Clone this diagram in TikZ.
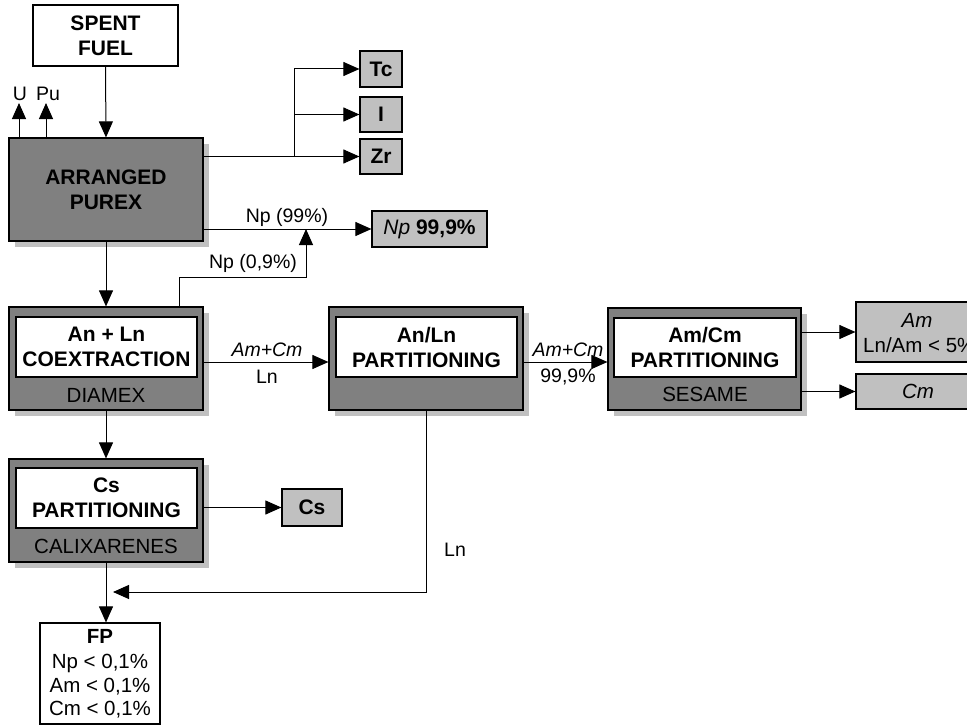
\documentclass[tikz,border=0pt]{standalone}
\usepackage{fontspec}
\setmainfont{Liberation Sans}
\usetikzlibrary{arrows.meta,shadows}
\definecolor{boxgray}{HTML}{808080}
\definecolor{shadowgray}{HTML}{C0C0C0}
\definecolor{lightbox}{HTML}{C0C0C0}
\begin{document}
\begin{tikzpicture}[x=1pt,y=-1pt,
  every node/.style={font=\fontsize{20.5}{24}\selectfont, inner sep=0pt},
  arr/.style={line width=1pt, -{Triangle[length=16pt,width=14pt]}},
  conn/.style={line width=1pt},
  outerbox/.style={draw, line width=1.2pt, fill=boxgray, minimum width=194pt, minimum height=103pt,
     drop shadow={shadow xshift=6pt, shadow yshift=-6pt, fill=shadowgray, opacity=1}},
  innerbox/.style={draw, line width=1.2pt, fill=white, minimum width=181pt, minimum height=60pt,
     align=center, font=\fontsize{21}{25}\selectfont\bfseries},
  outbox/.style={draw, line width=1.2pt, fill=lightbox, align=center},
  lbl/.style={font=\fontsize{19.5}{23}\selectfont}
]
\clip (0,0) rectangle (967,725);
\fill[white] (0,0) rectangle (967,725);

% boxes
\node[draw, line width=1.2pt, fill=white, minimum width=145pt, minimum height=61pt, align=center,
      font=\fontsize{21}{25}\selectfont\bfseries] (spent) at (105.5,35.5) {SPENT\\FUEL};
\node[outerbox, align=center, font=\fontsize{21}{25}\selectfont\bfseries] (purex) at (106,189.5) {ARRANGED\\PUREX};

\node[outbox, minimum width=42pt, minimum height=36pt, font=\fontsize{21}{25}\selectfont\bfseries] (tc) at (381,69) {Tc};
\node[outbox, minimum width=42pt, minimum height=35pt, font=\fontsize{21}{25}\selectfont\bfseries] (iod) at (381,114.5) {I};
\node[outbox, minimum width=42pt, minimum height=35pt, font=\fontsize{21}{25}\selectfont\bfseries] (zr) at (381,156.5) {Zr};
\node[outbox, minimum width=115pt, minimum height=36pt, font=\fontsize{21}{25}\selectfont] (np) at (429.5,229) {\textit{Np} \textbf{99,9\%}};

\node[outerbox] (diamex) at (106,358.5) {};
\node[innerbox] (diamexin) at (106.5,347) {An + Ln\\COEXTRACTION};
\node (diamexlbl) at (106,395) {DIAMEX};

\node[outerbox] (anln) at (426,358.5) {};
\node[innerbox] (anlnin) at (426.5,347) {An/Ln\\PARTITIONING};

\node[outerbox, minimum width=193pt, minimum height=102pt] (sesame) at (704.5,359) {};
\node[innerbox, minimum width=182pt, minimum height=59pt] (sesamein) at (705,347.5) {Am/Cm\\PARTITIONING};
\node (sesamelbl) at (705,394) {SESAME};

\node[outbox, minimum width=124pt, minimum height=60pt] (am) at (918,332) {};
\node (amt1) at (917,320) {\textit{Am}};
\node[anchor=west] (amt2) at (863,345) {Ln/Am < 5\%};
\node[outbox, minimum width=124pt, minimum height=35pt] (cm) at (918,391.5) {\textit{Cm}};

\node[outerbox] (cs) at (106,510.5) {};
\node[innerbox] (csin) at (106.5,498) {Cs\\PARTITIONING};
\node (cslbl) at (106,546) {CALIXARENES};
\node[outbox, minimum width=60pt, minimum height=37pt, font=\fontsize{21}{25}\selectfont\bfseries] (csout) at (312,507.5) {Cs};

\node[draw, line width=1.2pt, fill=white, minimum width=120pt, minimum height=101pt] (fp) at (100,673.5) {};
\node (fpt) at (100,636) {\textbf{FP}};
\node (fp1) at (100,663) {Np < 0,1\%};
\node (fp2) at (100,687) {Am < 0,1\%};
\node (fp3) at (100,710) {Cm < 0,1\%};

% coordinates
\coordinate (u) at (19,103);
\coordinate (pu) at (46,103);
\coordinate (br) at (294,156.5);
\coordinate (npup) at (179,277);
\coordinate (nptip) at (306,229);
\coordinate (ya) at (0,362);
\coordinate (lnend) at (113,592);

% connectors
\draw[arr] (spent.south) -- (purex.north);
\draw[arr] (purex.north -| u) -- (u);
\draw[arr] (purex.north -| pu) -- (pu);
\node[lbl] (ulbl) at (20,94) {U};
\node[lbl] (pulbl) at (48,94) {Pu};

\draw[arr] (purex.east |- zr) -- (zr.west);
\draw[arr] (br) |- (tc.west);
\draw[arr] (br |- iod) -- (iod.west);

\draw[arr] (purex.east |- np) -- (np.west);
\draw[arr] (diamex.north -| npup) -- (npup) -| (nptip);
\node[lbl] (np99) at (287,217) {Np (99\%)};
\node[lbl] (np09) at (253,263) {Np (0,9\%)};

\draw[arr] (purex.south) -- (diamex.north);
\draw[arr] (diamex.east |- ya) -- (anln.west |- ya);
\node[lbl] (l1) at (267,350) {\textit{Am+Cm}};
\node[lbl] (l2) at (267,377) {Ln};
\draw[arr] (anln.east |- ya) -- (sesame.west |- ya);
\node[lbl] (l3) at (568,350) {\textit{Am+Cm}};
\node[lbl] (l4) at (568,377) {99,9\%};

\draw[arr] (sesame.east |- am.west) -- (am.west);
\draw[arr] (sesame.east |- cm.west) -- (cm.west);

\draw[arr] (diamex.south) -- (cs.north);
\draw[arr] (cs.east |- csout.west) -- (csout.west);
\draw[arr] (cs.south -| fp.north) ++(6,0) -- ([xshift=6pt]fp.north);
\draw[arr] (anln.south) |- (lnend);
\node[lbl] (lnlbl) at (455,550) {Ln};
\end{tikzpicture}
\end{document}
